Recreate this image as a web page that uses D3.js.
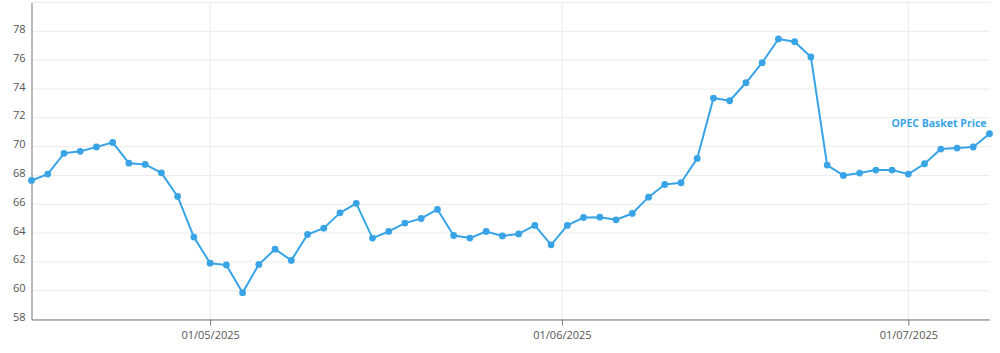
<!DOCTYPE html>
<html lang="en">
<head>
    <meta charset="UTF-8">
    <title>OPEC Basket Price</title>
    <script src="https://d3js.org/d3.v7.min.js"></script>
    <style>
        body {
            margin: 0;
            background: #fff;
        }
        text {
            font-family: "Open Sans", "Noto Sans", sans-serif;
        }
    </style>
</head>
<body>
    <svg id="chart" width="1000" height="353"></svg>
    <script>
    // trading days (weekdays) shown on the chart
    const dates = [
        "2025-04-16", "2025-04-17", "2025-04-18", "2025-04-21", "2025-04-22", "2025-04-23", "2025-04-24", "2025-04-25",
        "2025-04-28", "2025-04-29", "2025-04-30", "2025-05-01", "2025-05-02", "2025-05-05", "2025-05-06", "2025-05-07",
        "2025-05-08", "2025-05-09", "2025-05-12", "2025-05-13", "2025-05-14", "2025-05-15", "2025-05-16", "2025-05-19",
        "2025-05-20", "2025-05-21", "2025-05-22", "2025-05-23", "2025-05-26", "2025-05-27", "2025-05-28", "2025-05-29",
        "2025-05-30", "2025-06-02", "2025-06-03", "2025-06-04", "2025-06-05", "2025-06-06", "2025-06-09", "2025-06-10",
        "2025-06-11", "2025-06-12", "2025-06-13", "2025-06-16", "2025-06-17", "2025-06-18", "2025-06-19", "2025-06-20",
        "2025-06-23", "2025-06-24", "2025-06-25", "2025-06-26", "2025-06-27", "2025-06-30", "2025-07-01", "2025-07-02",
        "2025-07-03", "2025-07-04", "2025-07-07", "2025-07-08"
    ];
    const prices = [
        67.65, 68.09, 69.53, 69.67, 69.97, 70.29, 68.85, 68.76, 68.18, 66.54,
        63.72, 61.91, 61.79, 59.86, 61.82, 62.88, 62.10, 63.90, 64.34, 65.40,
        66.06, 63.65, 64.11, 64.69, 65.01, 65.64, 63.83, 63.65, 64.11, 63.80,
        63.94, 64.53, 63.18, 64.53, 65.08, 65.10, 64.92, 65.36, 66.49, 67.37,
        67.49, 69.18, 73.37, 73.18, 74.43, 75.82, 77.47, 77.28, 76.22, 68.72,
        68.00, 68.16, 68.37, 68.37, 68.09, 68.81, 69.83, 69.90, 69.97, 70.89
    ];
    const monthTicks = ["2025-05-01", "2025-06-01", "2025-07-01"];
    const yTicks = [58, 60, 62, 64, 66, 68, 70, 72, 74, 76, 78];
    const seriesName = "OPEC Basket Price";

    const svg = d3.select("#chart");
    const plotLeft = 31.5, plotRight = 989.5, plotTop = 2.5, plotBottom = 319.5;
    const blue = "#38a4e6";

    const parse = d3.timeParse("%Y-%m-%d");
    const fmt = d3.timeFormat("%d/%m/%Y");
    const days = dates.map(parse);
    const data = prices.map((v, i) => ({ i: i, date: days[i], value: v }));

    // points are evenly spaced by trading day; calendar dates in between are interpolated
    function dateToIndex(d) {
        const j = d3.bisectLeft(days, d);
        if (j < days.length && +days[j] === +d) return j;
        const a = days[j - 1], b = days[j];
        return (j - 1) + (d - a) / (b - a);
    }

    const x = d3.scaleLinear().domain([0, dates.length - 1]).range([plotLeft, plotRight]);
    const y = d3.scaleLinear().domain([58, 80]).range([plotBottom, plotTop]);

    // horizontal grid
    svg.append("g")
        .selectAll("line")
        .data(yTicks.concat([80]))
        .enter().append("line")
        .attr("x1", plotLeft).attr("x2", plotRight)
        .attr("y1", d => y(d)).attr("y2", d => y(d))
        .attr("stroke", "#ebebeb")
        .attr("stroke-width", 1);

    // vertical grid at month starts
    const tickIdx = monthTicks.map(s => dateToIndex(parse(s)));
    svg.append("g")
        .selectAll("line")
        .data(tickIdx)
        .enter().append("line")
        .attr("x1", d => x(d)).attr("x2", d => x(d))
        .attr("y1", plotTop).attr("y2", plotBottom)
        .attr("stroke", "#ebebeb")
        .attr("stroke-width", 1);

    // x axis
    const xAxis = d3.axisBottom(x)
        .tickValues(tickIdx)
        .tickFormat((d, k) => fmt(parse(monthTicks[k])))
        .tickSize(6)
        .tickSizeOuter(0)
        .tickPadding(6);
    const gx = svg.append("g")
        .attr("transform", `translate(0,${plotBottom})`)
        .call(xAxis);
    gx.select(".domain").attr("stroke", "#777");
    gx.selectAll(".tick line").attr("stroke", "#777");
    gx.selectAll("text")
        .attr("fill", "#555")
        .style("font-size", "11px");

    // y axis
    const yAxis = d3.axisLeft(y)
        .tickValues(yTicks)
        .tickSize(0)
        .tickSizeOuter(0)
        .tickPadding(6);
    const gy = svg.append("g")
        .attr("transform", `translate(${plotLeft},0)`)
        .call(yAxis);
    gy.select(".domain").attr("stroke", "#777");
    gy.selectAll("text")
        .attr("fill", "#555")
        .attr("dy", "0.1em")
        .style("font-size", "11px");

    // series
    const line = d3.line()
        .x(d => x(d.i))
        .y(d => y(d.value));

    svg.append("path")
        .datum(data)
        .attr("fill", "none")
        .attr("stroke", blue)
        .attr("stroke-width", 2)
        .attr("stroke-linejoin", "round")
        .attr("d", line);

    svg.append("g")
        .selectAll("circle")
        .data(data)
        .enter().append("circle")
        .attr("cx", d => x(d.i))
        .attr("cy", d => y(d.value))
        .attr("r", 3.4)
        .attr("fill", blue);

    const last = data[data.length - 1];
    svg.append("text")
        .attr("x", x(last.i) - 3)
        .attr("y", y(last.value) - 7)
        .attr("text-anchor", "end")
        .attr("fill", blue)
        .style("font-size", "10.5px")
        .style("font-weight", "bold")
        .text(seriesName);
    </script>
</body>
</html>
